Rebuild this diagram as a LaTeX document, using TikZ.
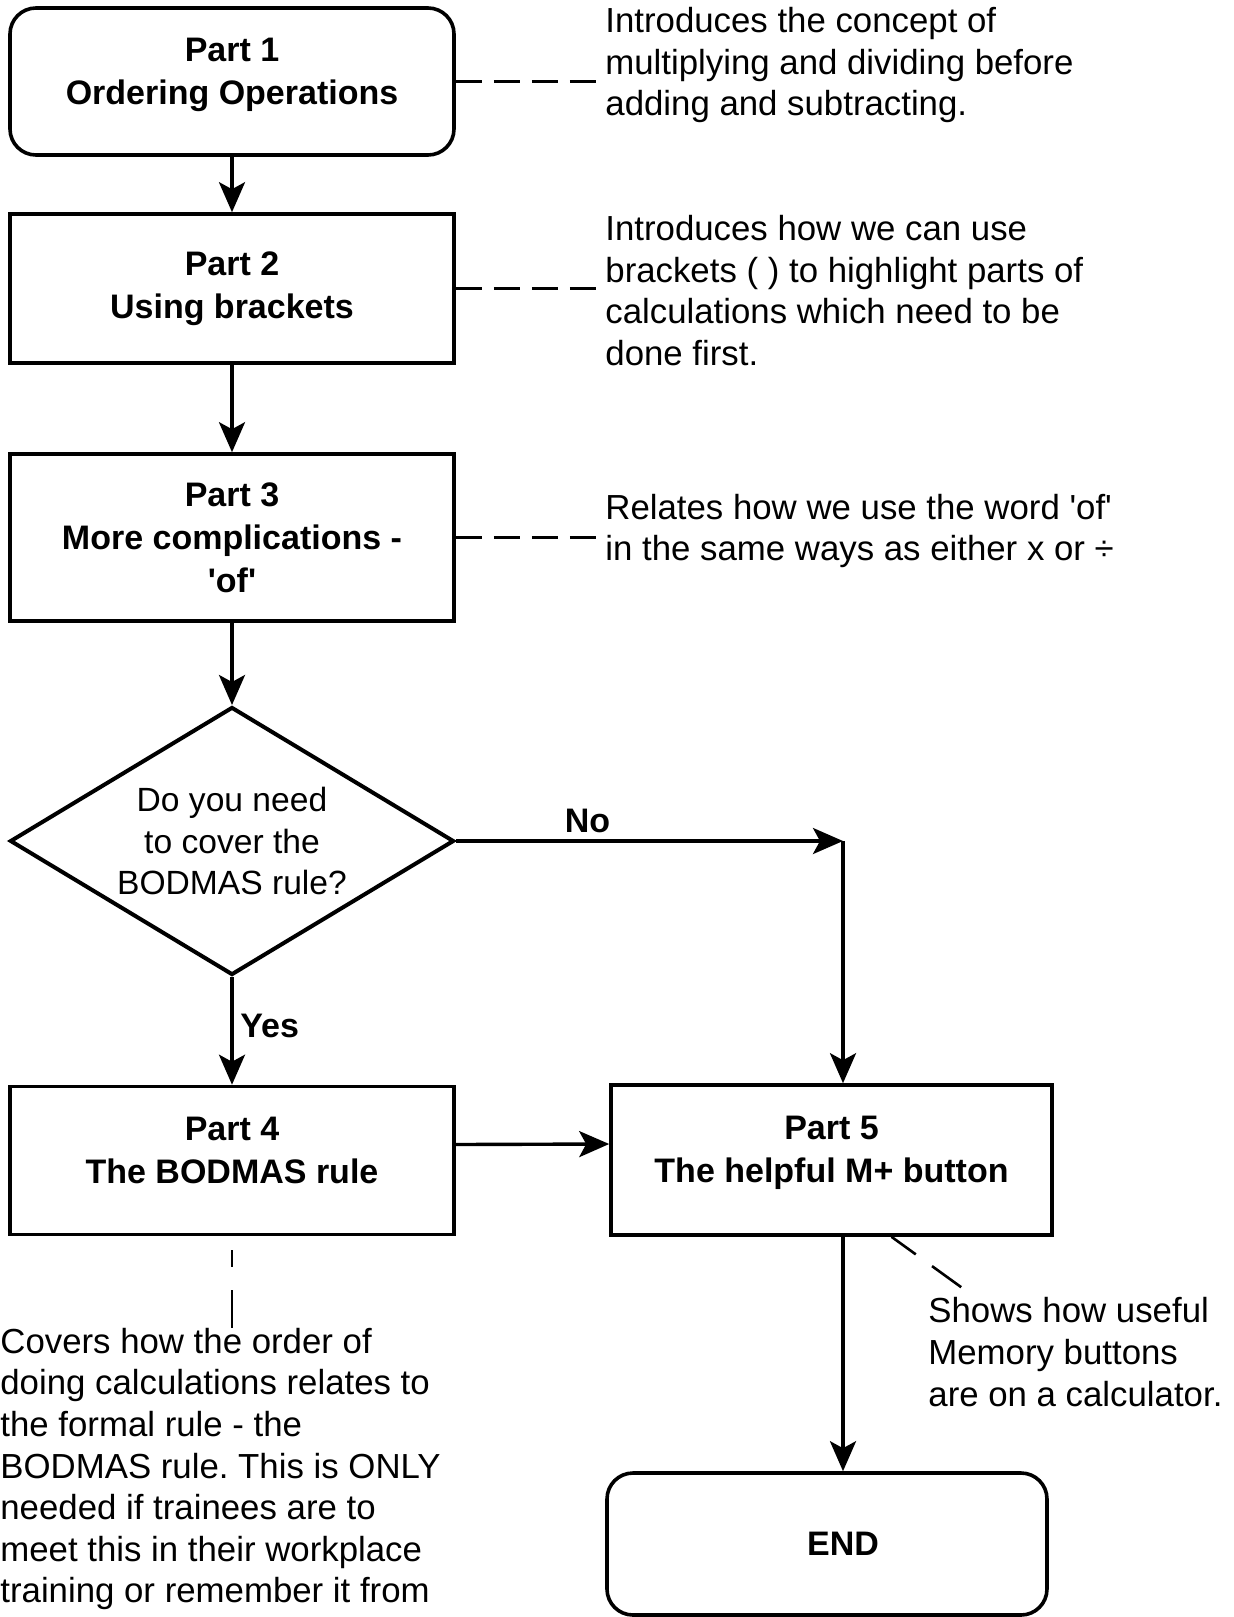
\documentclass[tikz,border=0pt]{standalone}
\usepackage{fontspec}
\setmainfont{Liberation Sans}
\frenchspacing
\usetikzlibrary{positioning,shapes.geometric,arrows.meta}

\begin{document}
\begin{tikzpicture}[x=0.5pt,y=-0.5pt,
  box/.style={draw,line width=1.8pt,minimum width=222pt,minimum height=74pt,align=center,font=\fontsize{17}{21.5}\selectfont\bfseries},
  roundbox/.style={box,rounded corners=13pt},
  raised/.style={text depth=10.5pt},
  decision/.style={draw,diamond,line width=2pt,minimum width=222pt,minimum height=134pt,shape aspect=1.657,inner sep=0pt,align=center,font=\fontsize{16.8}{20.8}\selectfont},
  note/.style={anchor=west,align=left,inner xsep=4.5pt,inner ysep=0pt,font=\fontsize{17.4}{20.8}\selectfont},
  answer/.style={font=\fontsize{17}{20}\selectfont\bfseries},
  arrow/.style={-{Stealth[length=15pt,width=13pt,inset=3.5pt]},line width=1.7pt},
  link/.style={line width=1.3pt,dash pattern=on 13pt off 6pt}
]
\useasboundingbox (0,0) rectangle (1234,1617);

\node[roundbox,raised,minimum height=73.5pt] (ordering) at (232,81.5) {Part 1\\Ordering Operations};
\node[box,minimum height=74.5pt] (brackets) at (232,288.5) {Part 2\\Using brackets};
\node[box,minimum height=83.5pt] (compl) at (232,537.5) {Part 3\\More complications -\\\textquotesingle of\textquotesingle};
\node[decision] (decide) at (232,841) {Do you need\\to cover the\\BODMAS rule?};
\node[box,raised] (bodmas) at (232,1160.5) {Part 4\\The BODMAS rule};
\node[box,raised,minimum width=220.5pt,minimum height=75pt] (memory) at (831.5,1160) {Part 5\\The helpful M+ button};
\node[roundbox,minimum width=220pt,minimum height=71pt] (finish) at (827,1544) {\hspace*{16pt}END};

% side notes
\node[note] (ordernote) at (596,65) {Introduces the concept of\\multiplying and dividing before\\adding and subtracting.};
\node[note] (bracketnote) at (596,290.5) {Introduces how we can use\\brackets (~) to highlight parts of\\calculations which need to be\\done first.};
\node[note] (ofnote) at (596,531) {Relates how we use the word \textquotesingle of\textquotesingle\\in the same ways as either x or ÷};
\node[note,inner xsep=0pt] (bodmasnote) at (0,1469) {Covers how the order of\\doing calculations relates to\\the formal rule - the\\BODMAS rule. This is ONLY\\needed if trainees are to\\meet this in their workplace\\training or remember it from};
\node[note,inner xsep=0pt] (memorynote) at (928,1352) {Shows how useful\\Memory buttons\\are on a calculator.};

\coordinate (turn) at (843,841);

\draw[arrow] (ordering) -- (brackets);
\draw[arrow] (brackets) -- (compl);
\draw[arrow] (compl) -- (decide);
\draw[arrow] (decide) -- node[right,pos=0.45,answer]{Yes} (bodmas);
\draw[arrow] (decide.east) -- node[above,pos=0.34,answer]{No} (turn);
\draw[arrow] (turn) -- (turn |- memory.north);
\draw[arrow] ([yshift=8pt]bodmas.east) -- ([yshift=8pt]memory.west);
\draw[arrow] (turn |- memory.south) -- (turn |- finish.north);

\draw[link] (ordering.east) -- (ordering.east -| ordernote.west);
\draw[link] (brackets.east) -- (brackets.east -| bracketnote.west);
\draw[link] (compl.east) -- (compl.east -| ofnote.west);
\draw[line width=1.3pt,dash pattern=on 0pt off 7pt on 8.5pt off 11.5pt on 30pt] (bodmas.south) -- (bodmas.south |- bodmasnote.north);
\draw[line width=1.3pt,dash pattern=on 15pt off 10pt on 18pt] ([xshift=30pt]memory.south) -- ([xshift=18pt,yshift=4pt]memorynote.north west);
\end{tikzpicture}
\end{document}
